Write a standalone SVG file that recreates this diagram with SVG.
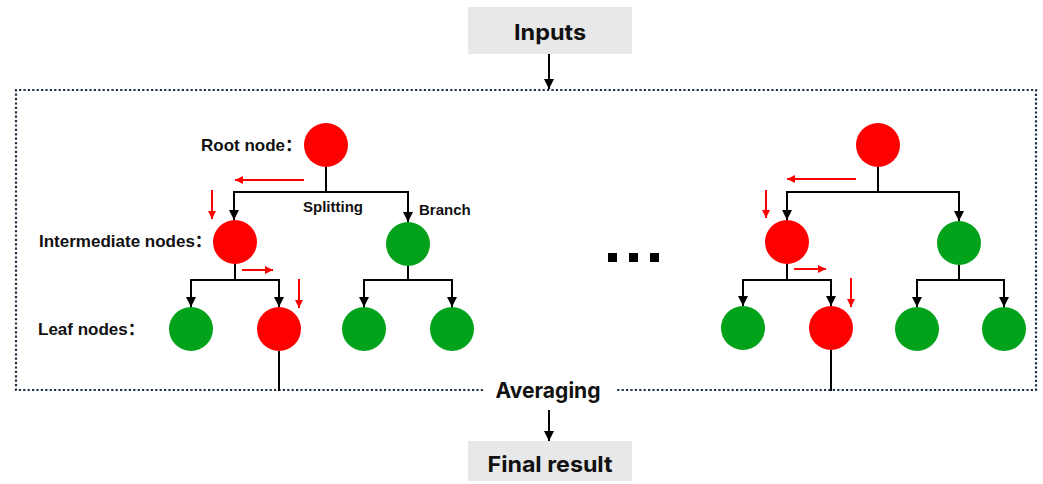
<svg xmlns="http://www.w3.org/2000/svg" width="1043" height="484" viewBox="0 0 1043 484">
<defs>
<marker id="ar" viewBox="0 0 10 10" refX="10" refY="5" markerWidth="9" markerHeight="8" orient="auto" markerUnits="userSpaceOnUse"><path d="M0,0 L10,5 L0,10 z" fill="#ff0000"/></marker>
<marker id="ak" viewBox="0 0 10 10" refX="10" refY="5" markerWidth="11" markerHeight="10" orient="auto" markerUnits="userSpaceOnUse"><path d="M0,0 L10,5 L0,10 z" fill="#000"/></marker>
</defs>
<style>
.box{fill:#e8e8e8}
.big{font-family:"Inter","Liberation Sans",sans-serif;font-weight:bold;font-size:22px;fill:#111;text-anchor:middle}
.lbl{font-family:"Liberation Sans",Arial,"Noto Sans CJK SC",sans-serif;font-weight:bold;font-size:17px;fill:#111}
.sm{font-family:"Liberation Sans",Arial,sans-serif;font-weight:bold;font-size:15px;fill:#111}
.red{fill:#ff0000}
.grn{fill:#02a31a}
.ln{stroke:#000;stroke-width:2;fill:none}
.arr{stroke:#000;stroke-width:2;fill:none;marker-end:url(#ak)}
.rarr{stroke:#ff0000;stroke-width:2;fill:none;marker-end:url(#ar)}
.dot{stroke:#1f3044;stroke-width:2.2;stroke-dasharray:2.2 2.2;fill:none}
</style>
<rect width="1043" height="484" fill="#fff"/>
<g id="inputs"><rect class="box" x="468" y="7" width="164" height="47"/><text class="big" x="550" y="40" textLength="72" lengthAdjust="spacingAndGlyphs">Inputs</text></g>
<g id="frame">
<path class="dot" d="M483,390 L16,390 L16,90 L1036,90 L1036,390 L615,390"/>
</g>
<g id="averaging"><text class="big" x="548" y="398" textLength="105" lengthAdjust="spacingAndGlyphs">Averaging</text></g>
<g id="final"><rect class="box" x="468" y="441" width="164" height="40"/><text class="big" x="550" y="472" textLength="125" lengthAdjust="spacingAndGlyphs">Final result</text></g>
<g id="labels">
<text class="lbl" x="201" y="151">Root node：</text>
<text class="lbl" x="39" y="247">Intermediate nodes：</text>
<text class="lbl" x="38" y="335">Leaf nodes：</text>
<text class="sm" x="303" y="212">Splitting</text>
<text class="sm" x="419" y="215">Branch</text>
</g>
<g id="ellipsis">
<rect x="608" y="253" width="9" height="9" fill="#000"/>
<rect x="629" y="253" width="9" height="9" fill="#000"/>
<rect x="650" y="253" width="9" height="9" fill="#000"/>
</g>
<g id="connectors">
<path class="arr" d="M549,54 L549,89"/>
<path class="arr" d="M549,410 L549,441"/>
<path class="ln" d="M326,167 L326,192 M234,192 L408,192"/>
<path class="arr" d="M234,191 L234,220"/>
<path class="arr" d="M408,191 L408,222"/>
<path class="ln" d="M235,264 L235,280 M191,280 L279,280"/>
<path class="arr" d="M191,279 L191,307"/>
<path class="arr" d="M279,279 L279,307"/>
<path class="ln" d="M408,266 L408,280 M364,280 L452,280"/>
<path class="arr" d="M364,279 L364,307"/>
<path class="arr" d="M452,279 L452,307"/>
<path class="ln" d="M279,351 L279,391"/>
<path class="ln" d="M878,167 L878,192 M787,192 L959,192"/>
<path class="arr" d="M787,191 L787,220"/>
<path class="arr" d="M959,191 L959,221"/>
<path class="ln" d="M787,264 L787,280 M743,280 L831,280"/>
<path class="arr" d="M743,279 L743,306"/>
<path class="arr" d="M831,279 L831,306"/>
<path class="ln" d="M959,265 L959,280 M917,280 L1004,280"/>
<path class="arr" d="M917,279 L917,307"/>
<path class="arr" d="M1004,279 L1004,307"/>
<path class="ln" d="M831,350 L831,391"/>
<path class="rarr" d="M304,180 L235,180"/>
<path class="rarr" d="M212,190 L212,219"/>
<path class="rarr" d="M242,270 L273,270"/>
<path class="rarr" d="M299,279 L299,308"/>
<path class="rarr" d="M856,179 L787,179"/>
<path class="rarr" d="M766,190 L766,218"/>
<path class="rarr" d="M794,269 L826,269"/>
<path class="rarr" d="M851,278 L851,307"/>
</g>
<g id="tree1">
<circle id="t1-root" class="red" cx="326" cy="145" r="22"/>
<circle id="t1-int-l" class="red" cx="235" cy="242" r="22"/>
<circle id="t1-int-r" class="grn" cx="408" cy="244" r="22"/>
<circle id="t1-leaf1" class="grn" cx="191" cy="329" r="22"/>
<circle id="t1-leaf2" class="red" cx="279" cy="329" r="22"/>
<circle id="t1-leaf3" class="grn" cx="364" cy="329" r="22"/>
<circle id="t1-leaf4" class="grn" cx="452" cy="329" r="22"/>
</g>
<g id="tree2">
<circle id="t2-root" class="red" cx="878" cy="145" r="22"/>
<circle id="t2-int-l" class="red" cx="787" cy="242" r="22"/>
<circle id="t2-int-r" class="grn" cx="959" cy="243" r="22"/>
<circle id="t2-leaf1" class="grn" cx="743" cy="328" r="22"/>
<circle id="t2-leaf2" class="red" cx="831" cy="328" r="22"/>
<circle id="t2-leaf3" class="grn" cx="917" cy="329" r="22"/>
<circle id="t2-leaf4" class="grn" cx="1004" cy="329" r="22"/>
</g>
</svg>
